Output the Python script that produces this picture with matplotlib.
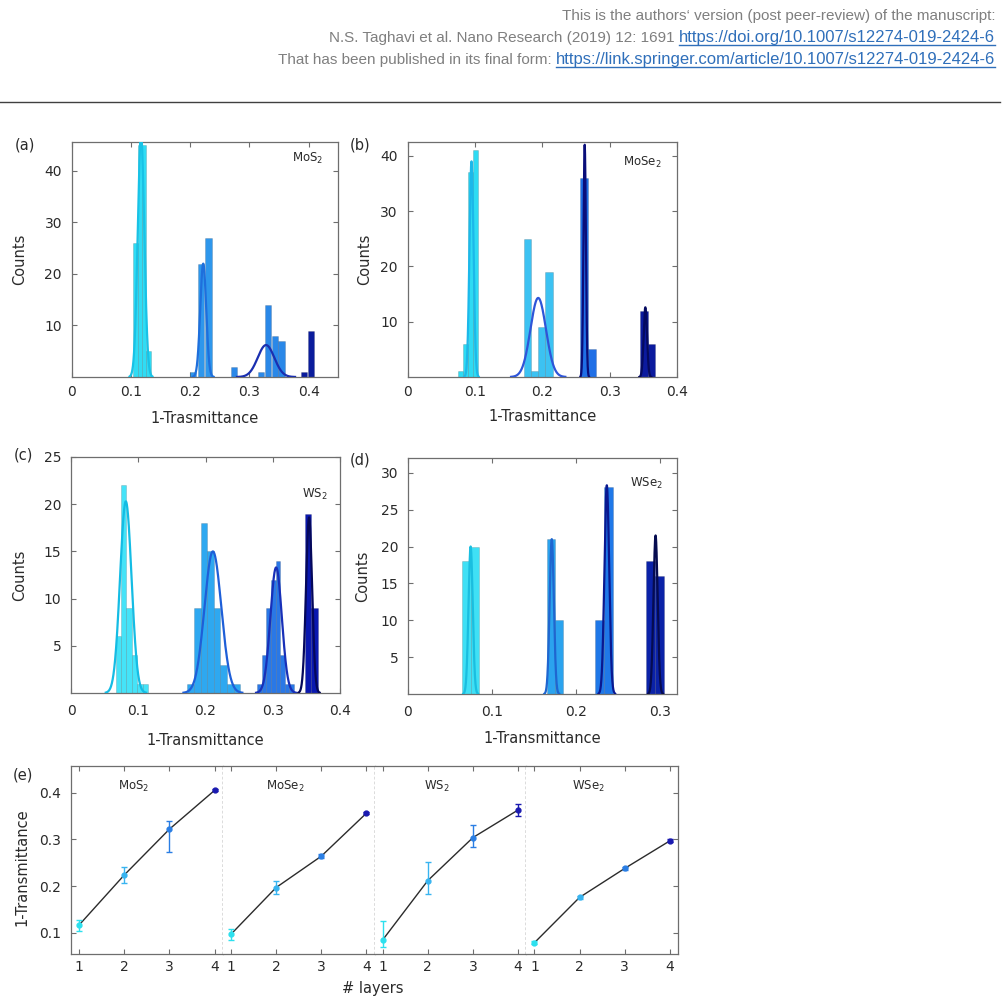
import matplotlib.pyplot as plt
import numpy as np
from matplotlib.lines import Line2D

plt.rcParams['font.family'] = ['DejaVu Sans']

# ---------------- data ----------------
# histograms: per panel, per layer (1L..4L) bin centres, counts, bin width
# gaussian fits: (mean, sigma, amplitude) or None
a_centers = [[0.1075, 0.115, 0.1225, 0.130], [0.205, 0.218, 0.2305],
             [0.2745, 0.3195, 0.331, 0.3425, 0.354], [0.3915, 0.4045]]
a_counts = [[26, 45, 45, 5], [1, 22, 27], [2, 1, 14, 8, 7], [1, 9]]
a_width = [0.0075, 0.011, 0.0105, 0.01]
a_fits = [(0.117, 0.0055, 47), (0.222, 0.005, 22), (0.328, 0.014, 6.2), None]

b_centers = [[0.078, 0.0855, 0.0935, 0.1005], [0.1785, 0.189, 0.1995, 0.21],
             [0.2615, 0.2735], [0.351, 0.362]]
b_counts = [[1, 6, 37, 41], [25, 1, 9, 19], [36, 5], [12, 6]]
b_width = [0.0075, 0.0105, 0.012, 0.011]
b_fits = [(0.095, 0.003, 39), (0.194, 0.0115, 14.3), (0.263, 0.0018, 42),
          (0.353, 0.0025, 12.6)]

c_centers = [[0.0705, 0.0785, 0.0865, 0.0945, 0.1025, 0.1105],
             [0.178, 0.188, 0.198, 0.207, 0.217, 0.227, 0.237, 0.247],
             [0.2805, 0.2873, 0.2941, 0.3009, 0.3077, 0.3145, 0.3213, 0.3281],
             [0.3525, 0.3625]]
c_counts = [[6, 22, 9, 4, 1, 1], [1, 9, 18, 15, 9, 3, 1, 1],
            [1, 4, 9, 12, 14, 4, 1, 1], [19, 9]]
c_width = [0.008, 0.0098, 0.0068, 0.01]
c_fits = [(0.0815, 0.0085, 20.3), (0.211, 0.0125, 15), (0.305, 0.0085, 13.3),
          (0.354, 0.0045, 18.6)]

d_centers = [[0.0692, 0.0797], [0.170, 0.180], [0.2281, 0.2386], [0.2887, 0.2996]]
d_counts = [[18, 20], [21, 10], [10, 28], [18, 16]]
d_width = [0.0105, 0.0099, 0.0105, 0.0105]
d_fits = [(0.0745, 0.0025, 20), (0.171, 0.0025, 21), (0.2365, 0.0028, 28.3),
          (0.2945, 0.0025, 21.5)]

# (e) mean 1-T versus number of layers, with lower / upper errors
layers = [1, 2, 3, 4]
e_names = ['MoS$_2$', 'MoSe$_2$', 'WS$_2$', 'WSe$_2$']
e_vals = [[0.117, 0.224, 0.322, 0.405], [0.097, 0.197, 0.264, 0.356],
          [0.085, 0.212, 0.304, 0.363], [0.079, 0.176, 0.238, 0.297]]
e_lo = [[0.012, 0.018, 0.049, 0.002], [0.012, 0.014, 0.004, 0.002],
        [0.015, 0.028, 0.020, 0.012], [0.003, 0.003, 0.003, 0.003]]
e_hi = [[0.010, 0.017, 0.018, 0.002], [0.012, 0.014, 0.004, 0.002],
        [0.040, 0.040, 0.027, 0.013], [0.003, 0.003, 0.003, 0.003]]

header = [("This is the authors\u2018 version (post peer-review) of the manuscript:", None),
          ("N.S. Taghavi et al. Nano Research (2019) 12: 1691 ",
           "https://doi.org/10.1007/s12274-019-2424-6"),
          ("That has been published in its final form: ",
           "https://link.springer.com/article/10.1007/s12274-019-2424-6")]

# ---------------- figure ----------------
W, H = 1005, 1007
fig = plt.figure(figsize=(W / 100, H / 100), dpi=100)


def px(x0, y0, x1, y1):
    # pixel box (left, top, right, bottom) -> figure rect
    return [x0 / W, 1 - y1 / H, (x1 - x0) / W, (y1 - y0) / H]


spine_col = '#6e6e6e'
txt_col = '#2a2a2a'

panels = [
    dict(box=(71.7, 142, 338.3, 377), c=a_centers, n=a_counts, w=a_width, f=a_fits,
         bar=['#30dcf4', '#2e97ec', '#2a88e8', '#0a1c9c'],
         fit=['#18c2e6', '#1e6fdc', '#1a2fb0', '#061070'],
         xlim=(0, 0.45), ylim=(0, 45.6), yt=[10, 20, 30, 40],
         xt=[0, 0.1, 0.2, 0.3, 0.4], xl='1-Trasmittance', name='MoS$_2$',
         nxy=(0.886, 0.93), tag='(a)', txy=(25, 145), ylx=-0.194, xly=-0.175, pad=6),
    dict(box=(407.5, 142, 677, 377), c=b_centers, n=b_counts, w=b_width, f=b_fits,
         bar=['#2edbf3', '#3cc2f2', '#1f6fe6', '#0b1a9e'],
         fit=['#1cb8ea', '#2e55d8', '#0a0e7a', '#050a60'],
         xlim=(0, 0.4), ylim=(0, 42.5), yt=[10, 20, 30, 40],
         xt=[0, 0.1, 0.2, 0.3, 0.4], xl='1-Trasmittance', name='MoSe$_2$',
         nxy=(0.87, 0.915), tag='(b)', txy=(360, 145), ylx=-0.158, xly=-0.17, pad=6),
    dict(box=(71, 457, 340, 693), c=c_centers, n=c_counts, w=c_width, f=c_fits,
         bar=['#45e3f8', '#2ea8f0', '#2a78e6', '#0a18b0'],
         fit=['#14bce4', '#1e5fd8', '#1830b8', '#05085a'],
         xlim=(0, 0.4), ylim=(0, 25), yt=[5, 10, 15, 20, 25],
         xt=[0, 0.1, 0.2, 0.3, 0.4], xl='1-Transmittance', name='WS$_2$',
         nxy=(0.907, 0.84), tag='(c)', txy=(23, 455), ylx=-0.19, xly=-0.2, pad=8),
    dict(box=(408, 458, 677, 694), c=d_centers, n=d_counts, w=d_width, f=d_fits,
         bar=['#3fe0f5', '#2ba3ee', '#1f78e8', '#0b22a8'],
         fit=['#1abee0', '#1f66d0', '#0a1890', '#060c50'],
         xlim=(0, 0.32), ylim=(0, 32), yt=[5, 10, 15, 20, 25, 30],
         xt=[0, 0.1, 0.2, 0.3], xl='1-Transmittance', name='WSe$_2$',
         nxy=(0.887, 0.894), tag='(d)', txy=(360, 460), ylx=-0.167, xly=-0.188, pad=8),
]

for p in panels:
    ax = fig.add_axes(px(*p['box']))
    for k in range(4):
        ax.bar(p['c'][k], p['n'][k], width=p['w'][k], color=p['bar'][k],
               edgecolor=(0, 0, 0, 0.18), linewidth=0.5, zorder=2)
    for k in range(4):
        if p['f'][k] is None:
            continue
        m, s, amp = p['f'][k]
        xs = np.linspace(m - 3.5 * s, m + 3.5 * s, 300)
        ax.plot(xs, amp * np.exp(-0.5 * ((xs - m) / s) ** 2), color=p['fit'][k],
                lw=1.6, zorder=3)
    ax.set_xlim(*p['xlim'])
    ax.set_ylim(*p['ylim'])
    ax.set_xticks(p['xt'])
    ax.set_xticklabels(['0' if v == 0 else f'{v:.1f}' for v in p['xt']])
    ax.set_yticks(p['yt'])
    ax.tick_params(direction='in', top=True, right=True, length=3.5, width=0.8,
                   color=spine_col, labelsize=10, labelcolor=txt_col)
    ax.tick_params(axis='x', pad=p['pad'])
    ax.tick_params(axis='y', pad=7)
    for sp in ax.spines.values():
        sp.set_color(spine_col)
        sp.set_linewidth(0.9)
    ax.set_ylabel('Counts', fontsize=10.5, color=txt_col)
    ax.yaxis.set_label_coords(p['ylx'], 0.5)
    ax.yaxis.label.set_va('center')
    ax.set_xlabel(p['xl'], fontsize=10.5, color=txt_col)
    ax.xaxis.set_label_coords(0.5, p['xly'])
    ax.xaxis.label.set_va('center')
    ax.text(p['nxy'][0], p['nxy'][1], p['name'], transform=ax.transAxes,
            ha='center', va='center', fontsize=8.5, color=txt_col)
    fig.text(p['txy'][0] / W, 1 - p['txy'][1] / H, p['tag'], ha='center',
             va='center', fontsize=10.5, color=txt_col)

# ---------------- panel (e) ----------------
layer_cols = ['#2ce0ee', '#38b4f0', '#2a7ee4', '#1a1ab0']
e_left, e_right, e_top, e_bot = 71, 678, 766, 954
sub_w = (e_right - e_left) / 4
e_axes = []
for i in range(4):
    ax = fig.add_axes(px(e_left + i * sub_w, e_top, e_left + (i + 1) * sub_w, e_bot))
    e_axes.append(ax)
    ax.plot(layers, e_vals[i], color='#2b2b2b', lw=1.0, zorder=2)
    for k in range(4):
        ax.errorbar(layers[k], e_vals[i][k], yerr=[[e_lo[i][k]], [e_hi[i][k]]],
                    fmt='o', ms=3.5, color=layer_cols[k], ecolor=layer_cols[k],
                    elinewidth=1, capsize=2, zorder=3)
    ax.set_xlim(0.82, 4.18)
    ax.set_ylim(0.055, 0.457)
    ax.set_xticks(layers)
    ax.set_yticks([0.1, 0.2, 0.3, 0.4])
    ax.tick_params(direction='in', top=True, left=(i == 0), right=(i == 3),
                   labelleft=(i == 0), length=3.5, width=0.8, color=spine_col,
                   labelsize=10, labelcolor=txt_col)
    ax.tick_params(axis='x', pad=4)
    ax.tick_params(axis='y', pad=7)
    for sp in ax.spines.values():
        sp.set_color(spine_col)
        sp.set_linewidth(0.9)
    if i > 0:
        ax.spines['left'].set_visible(False)
    ax.text(2.2, 0.414, e_names[i], ha='center', va='center', fontsize=8.5,
            color=txt_col)
    if i < 3:
        ax.spines['right'].set_visible(False)
        # dotted separator between materials
        ax.axvline(4.18, color='#505050', lw=1.0, ls=(0, (2, 1.5)), zorder=5,
                   clip_on=False)

e_axes[0].set_ylabel('1-Transmittance', fontsize=10.5, color=txt_col)
e_axes[0].yaxis.set_label_coords(-0.325, 0.464)
e_axes[0].yaxis.label.set_va('center')
fig.text(373 / W, 1 - 988 / H, '# layers', ha='center', va='center',
         fontsize=10.5, color=txt_col)
fig.text(23 / W, 1 - 775 / H, '(e)', ha='center', va='center', fontsize=10.5,
         color=txt_col)

# ---------------- header ----------------
head_font = ['Liberation Sans', 'DejaVu Sans']
gray = '#7f7f7f'
link_col = '#2f6fba'
r = fig.canvas.get_renderer()
for j, (plain, link) in enumerate(header):
    yb = 20 + 22 * j
    x = 995
    if link:
        t = fig.text(x / W, 1 - yb / H, link, ha='right', va='baseline',
                     fontsize=12, family=head_font, color=link_col)
        bb = t.get_window_extent(r)
        fig.add_artist(Line2D([bb.x0 / W, bb.x1 / W], [1 - (yb + 3) / H] * 2,
                              color=link_col, lw=1.0))
        x = bb.x0
    fig.text(x / W, 1 - yb / H, plain, ha='right', va='baseline', fontsize=11,
             family=head_font, color=gray)

fig.add_artist(Line2D([0, 1000 / W], [1 - 102 / H] * 2, color='#404040', lw=1.0))

fig.savefig('out.png', dpi=100)
